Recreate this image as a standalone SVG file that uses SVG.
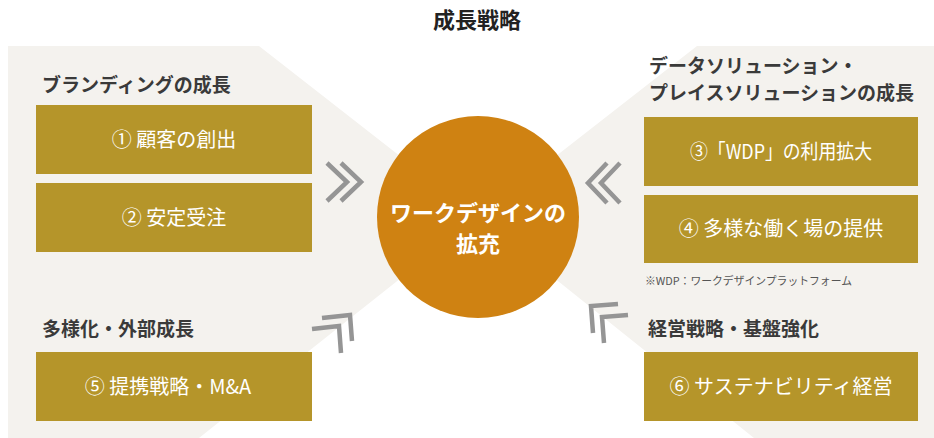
<svg xmlns="http://www.w3.org/2000/svg" width="934" height="438" viewBox="0 0 934 438">
<style>
.bg{fill:#f4f2ee}
.box{fill:#b5952a}
.head{font-family:"Noto Sans CJK JP","Noto Sans",sans-serif;font-size:19px;font-weight:bold;fill:#3a3a3a}
.btxt{font-family:"Noto Sans CJK JP","Noto Sans",sans-serif;font-size:20px;fill:#ffffff;text-anchor:middle}
.ctxt{font-family:"Noto Sans CJK JP","Noto Sans",sans-serif;font-size:22px;font-weight:bold;fill:#ffffff;text-anchor:middle}
.chev{fill:none;stroke:#959595;stroke-width:4.5;stroke-linejoin:miter;stroke-linecap:butt}
.note{font-family:"Noto Sans CJK JP","Noto Sans",sans-serif;font-size:11px;fill:#555555}
</style>
<rect width="934" height="438" fill="#ffffff"/>
<path class="bg" d="M8,46 L259,46 L478,217 L697,46 L934,46 L934,438 L754,438 L478,217 L199,438 L8,438 Z"/>
<text x="477" y="28" text-anchor="middle" font-family="'Noto Sans CJK JP','Noto Sans',sans-serif" font-size="22" font-weight="bold" fill="#222222">成長戦略</text>

<g id="heading-branding"><text class="head" x="42" y="92">ブランディングの成長</text></g>
<g id="node-1"><rect class="box" x="36" y="105" width="276" height="69"/><text class="btxt" x="174" y="147">① 顧客の創出</text></g>
<g id="node-2"><rect class="box" x="36" y="183" width="276" height="69"/><text class="btxt" x="174" y="225">② 安定受注</text></g>

<g id="heading-diversify"><text class="head" x="42" y="336">多様化・外部成長</text></g>
<g id="node-5"><rect class="box" x="36" y="352" width="276" height="69"/><text class="btxt" x="168" y="394">⑤ 提携戦略・M&amp;A</text></g>

<g id="heading-solution"><text class="head" x="649" y="73">データソリューション・</text><text class="head" x="649" y="100">プレイスソリューションの成長</text></g>
<g id="node-3"><rect class="box" x="644" y="117" width="274" height="69"/><text class="btxt" x="781" y="159" textLength="182" lengthAdjust="spacingAndGlyphs">③「WDP」の利用拡大</text></g>
<g id="node-4"><rect class="box" x="644" y="195" width="274" height="68"/><text class="btxt" x="781" y="236">④ 多様な働く場の提供</text></g>
<g id="note"><text class="note" x="645" y="285" textLength="207" lengthAdjust="spacingAndGlyphs">※WDP：ワークデザインプラットフォーム</text></g>

<g id="heading-management"><text class="head" x="648" y="336">経営戦略・基盤強化</text></g>
<g id="node-6"><rect class="box" x="644" y="352" width="274" height="69"/><text class="btxt" x="781" y="394">⑥ サステナビリティ経営</text></g>

<g id="center"><circle cx="478" cy="217" r="101" fill="#cf8212"/><text class="ctxt" x="478" y="221">ワークデザインの</text><text class="ctxt" x="478" y="252">拡充</text></g>

<g id="connectors">
<polyline class="chev" points="327,163 347,182 327,201"/>
<polyline class="chev" points="341,163 361,182 341,201"/>
<polyline class="chev" points="607,163 588,183 607,203"/>
<polyline class="chev" points="620,163 601,183 620,203"/>
<polyline class="chev" points="322,318 350,315 352,341"/>
<polyline class="chev" points="312,329 339,326 341,353"/>
<polyline class="chev" points="618,304 591,306 593,333"/>
<polyline class="chev" points="628,315 602,317 604,343"/>
</g>
</svg>
